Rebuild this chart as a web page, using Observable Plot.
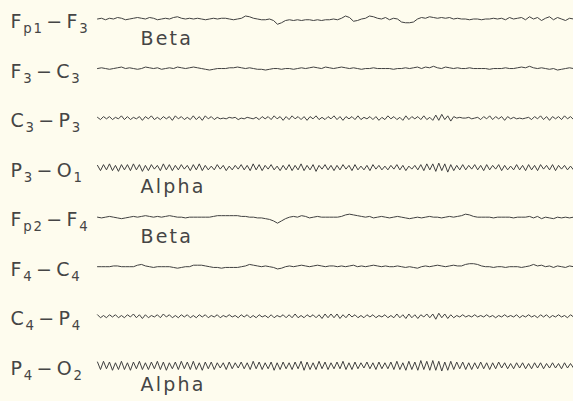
<!DOCTYPE html>
<html>
<head>
<meta charset="utf-8">
<script src="https://cdn.jsdelivr.net/npm/d3@7"></script>
<script src="https://cdn.jsdelivr.net/npm/@observablehq/plot@0.6"></script>
<style>
  html, body { margin: 0; padding: 0; background: #fefcee; }
  svg { display: block; }
</style>
</head>
<body>
<div id="chart"></div>
<script>
// ---- Data (EEG montage, 8 bipolar channels) ----
const channels = ["Fp1-F3", "F3-C3", "C3-P3", "P3-O1", "Fp2-F4", "F4-C4", "C4-P4", "P4-O2"];

// Sampled amplitudes (arbitrary µV units), left to right across the record
const fp1F3 = [0,1,-1,1,0,2,1,-1,0,1,2, 1,0,2,1,-1,0,1,0,2,3,1,0,1, 0,1,0,-1,0,1,0,1,1,0,-1,0,1, 4,3, 1,0,-1,-1,0,-2, -7,-5, -2,-1,-2,-1,-2,-1,-1,-2,-1,-2,-1,-1,0,-1, 1,4,2, -3,-2, 0,1, 4,3, 1, 0,2,-1,1,0, -4,-5,-5,-4, 0,2,1,3,2,1,2,1,2,0,1, 0,0,-1,0,0,-1,0,0,1,0, 1,-1,2,0,1, 2,-1,3,0,2,-2,1,3,-1,2,0,-2,1,0];
const f3C3 = [0,1,0,-1,0,1,2,0,1,0,-1,0,2,1,0,1,-1,0,1,0,2,1,0,1, 2,1,0,-1,-2,-1,0,0,0,1,1,2,1,0,1,0,-1,-1,-2,-1,0,0,-1,0, 0,-1,0,1,0,1,2,1,0,2,1,0,1,2,1,0,1,0,-1,0,0,1,0,0, 0,0,-1,0,0,1,0,1,2,0,2,1,3,1,0,2,1,0,1,0,0,1,0,0, 0,0,-1,0,0,0,1,0,0,1,2,1,3,1,0,1,0,-1,0,-2,-1,0,1,0];
const c3P3 = [1,-2,2,-1,2,-2,1,-1,3,-2,2,-2,1,-1,2,-3, 2,-1,3,-2,1,-2,2,-1,2,-3,3,-1,2,-2,1,-2, 3,-2,2,-3,3,-1,2,-2,1,-1,0,-1,1,0,1,-2, 0,-1,1,0,-1,1,-2,2,-1,2,-2,3,-1,2,-3,2, -2,3,-1,2,-2,2,-3,2,-1,3,-2,1,-2,2,-1,3, -2,2,-3,2,-1,2,-2,3,-2,1,-1,2,-2,2,-3,1, -2,3,-1,2,-2,1,-3,3,-2,2,-1,2,-2,3,-2,1, -3,4,-3,5,-2,3,-4,2,0,1,0,0,1,-1,0,1, -2,2,-1,3,-2,2,-1,2,-3,2,-1,1,-1,0,-1,0, 1,-2,2,-1,3,-2,2,-3,2,-1,2,-2,3,-1,2,-2];
const p3O1 = [3,-4,4,-3,5,-4,3,-5,4,-3,4,-4,5,-3,4,-5, 3,-4,4,-2,3,-4,5,-3,4,-4,3,-3,4,-2,3,-4, 4,-3,5,-4,3,-3,2,-3,4,-2,3,-4,2,-3,3,-2, 4,-3,3,-4,5,-3,4,-4,3,-2,4,-3,2,-4,3,-3, 4,-4,3,-3,5,-4,3,-3,4,-5,3,-2,4,-3,3,-4, 3,-3,4,-2,3,-4,4,-3,2,-3,3,-4,4,-2,3,-3, 2,-3,3,-2,4,-3,3,-4,2,-2,3,-3,4,-4,5,-3, 5,-5,6,-4,5,-6,4,-4,3,-3,4,-3,3,-2,4,-3, 3,-4,4,-3,3,-2,4,-4,3,-3,2,-3,4,-3,3,-4, 4,-3,3,-4,4,-2,3,-3,4,-4,3,-2,3,-3,2,-3];
const fp2F4 = [0,-1,0,1,0,-1,-2,-1,0,1,0,1,2,1,0,1,0,1,2,1,0,0,-1,0, 0,0,0,0,0,1,2,2,2,2,2,2,1,1,0,0,-1, -1,-2,-3,-5,-8,-5,-2,0, 1,0,2,1,-1,0,1,0,0,0,0,0, 1,3,4,3,2,1, 0,1,-1,0,1,0,-1,0,1, 0,-1,-2,-1,0,-1,0,1,0,0,-1,0,1,0,1, 2,4,3,1,0, 0,0,0,-1,0,0,0,0,-1,0,0,0, 1,-1,1,-2,0,-1,-2,0,-1,0,-1,0];
const f4C4 = [0,0,0,0,1,1,0,0,0,0,2,3,1,0,-1,0,0,0,0,-1,-2,-1,0,0, 2,2,2,1,0,-1,-1,-2,-1,-1,-1,-1,0,1,3,2,1, 0,1,0,-1,-3,-2,0,1, 0,1,2,1,0,1,2,1,0,1,1,0, 1,0,1,2,0,1,0,1,2,1,0,1,0,0,1, 0,-1,0,-1,-2,0,1,0,1,2,1,0,1,2,1, 1,3,4,4,3, 1,0,0,-1,0,0,-1,0,0,0,-1,0, 1,3,1,2,0,1,-1,1,0,-1,1,0];
const c4P4 = [2,-2,1,-2,2,-1,2,-2,1,-2,2,-1,3,-2,2,-3, 2,-2,1,-1,2,-2,3,-1,2,-2,1,-2,2,-1,2,-2, 1,-2,2,-1,2,-2,1,-1,2,-2,1,-1,2,-1,1,-2, 2,-1,2,-2,1,-2,2,-1,1,-2,2,-2,1,-1,2,-2, 2,-2,3,-2,1,-2,2,-1,2,-2,2,-3,3,-2,3,-2, 3,-3,2,-2,3,-1,2,-2,1,-2,2,-1,2,-2,1,-1, 2,-2,1,-2,3,-2,2,-3,3,-2,2,-3,2,-1,3,-2, 3,-4,4,-2,3,-3,2,-2,1,-1,2,-1,1,-1,2,-1, 1,-1,2,-1,1,-2,1,-1,2,-1,1,-1,2,-2,1,-1, 2,-1,1,-2,2,-1,2,-2,1,-1,2,-1,1,-2,2,-1];
const p4O2 = [5,-5,6,-4,5,-6,4,-5,6,-5,4,-6,5,-4,6,-5, 4,-5,5,-4,6,-5,5,-6,4,-4,5,-5,6,-4,5,-5, 6,-5,4,-6,5,-4,5,-5,4,-3,4,-5,5,-4,4,-3, 5,-4,4,-5,6,-4,5,-5,4,-4,5,-6,4,-5,5,-4, 4,-5,5,-4,6,-6,5,-5,4,-5,6,-4,5,-5,4,-4, 5,-4,6,-5,4,-5,5,-4,4,-3,5,-4,4,-5,5,-4, 4,-4,5,-5,6,-5,4,-6,6,-5,5,-6,7,-5,6,-6, 7,-6,6,-7,5,-6,6,-5,5,-4,5,-5,4,-5,4,-4, 5,-4,4,-5,4,-4,5,-3,4,-4,3,-4,4,-3,4,-4, 3,-4,4,-3,4,-4,3,-3,4,-3,3,-4,4,-3,3,-3];

const annotationChannels = ["Fp1-F3", "P3-O1", "Fp2-F4", "P4-O2"];
const annotationTexts = ["Beta", "Alpha", "Beta", "Alpha"];

const durationSeconds = 10;

// ---- Build the tables ----
const traces = [fp1F3, f3C3, c3P3, p3O1, fp2F4, f4C4, c4P4, p4O2];
const W = 573, H = 401;
const pxPerUnit = 0.75, rowPx = 49.54, firstRowPx = 18.5;
const rowUnits = rowPx / pxPerUnit;
const offsetOf = ch => -channels.indexOf(ch) * rowUnits;

const samples = channels.flatMap((ch, k) =>
  traces[k].map((v, i, arr) => ({channel: ch, t: i / (arr.length - 1) * durationSeconds, v}))
);
const annotations = annotationChannels.map((ch, j) => ({channel: ch, text: annotationTexts[j]}));

const svg = Plot.plot({
  width: W,
  height: H,
  marginLeft: 97,
  marginRight: 0,
  marginTop: 0,
  marginBottom: 0,
  style: {background: "#fefcee", fontFamily: "'DejaVu Sans', sans-serif"},
  x: {domain: [0, durationSeconds], axis: null},
  y: {domain: [-(H - firstRowPx) / pxPerUnit, firstRowPx / pxPerUnit], axis: null},
  marks: [
    Plot.line(samples, {x: "t", y: d => offsetOf(d.channel) + d.v, z: "channel", stroke: "#404040", strokeWidth: 1}),
    Plot.text(channels, {y: d => offsetOf(d), text: d => d, frameAnchor: "left", textAnchor: "start", dx: -87, dy: 3, fontSize: 19, fill: "#454545"}),
    Plot.text(annotations, {y: d => offsetOf(d.channel), text: "text", frameAnchor: "left", textAnchor: "start", dx: 43, dy: 19.5, fontSize: 19, fill: "#454545"})
  ]
});

// Render electrode names with subscripts (F with subscript p1, etc.)
const subShift = 5;
d3.select(svg).selectAll("text").each(function() {
  const name = this.textContent;
  if (annotationTexts.includes(name)) {
    d3.select(this).attr("letter-spacing", 2.2);
    return;
  }
  if (!channels.includes(name)) return;
  const [a, b] = name.split("-");
  const parts = [
    {t: a[0], sub: false}, {t: a.slice(1), sub: true},
    {t: "\u2212", sub: false, gap: 2.5},
    {t: b[0], sub: false, gap: 2.5}, {t: b.slice(1), sub: true}
  ];
  const text = d3.select(this).text(null).attr("letter-spacing", 1.8);
  let cur = 0;
  for (const p of parts) {
    const target = p.sub ? subShift : 0;
    const ts = text.append("tspan").text(p.t);
    if (target !== cur) ts.attr("dy", target - cur);
    if (p.gap) ts.attr("dx", p.gap);
    if (p.sub) ts.attr("font-size", "70%");
    cur = target;
  }
});

document.getElementById("chart").appendChild(svg);
</script>
</body>
</html>
